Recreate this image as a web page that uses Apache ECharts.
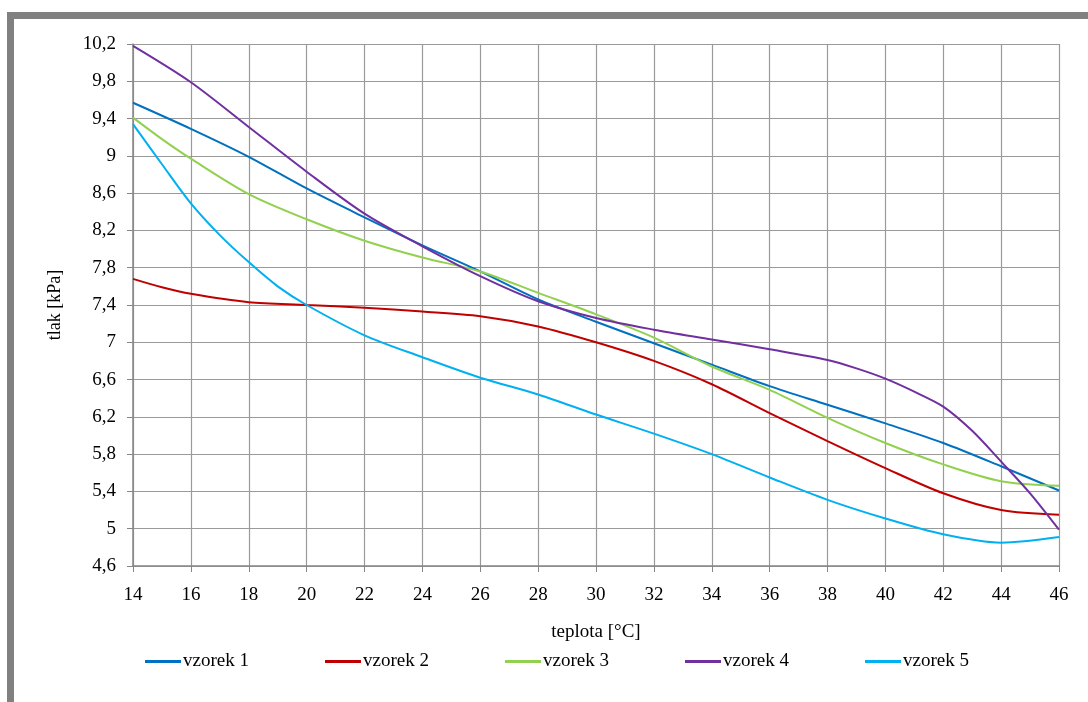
<!DOCTYPE html>
<html>
<head>
<meta charset="utf-8">
<script src="https://cdn.jsdelivr.net/npm/echarts@6/dist/echarts.min.js"></script>
<style>
html,body{margin:0;padding:0;background:#fff;}
#c{width:1088px;height:702px;}
</style>
</head>
<body>
<div id="c"></div>
<script>
// temperatures [°C]
const temps = [14, 16, 18, 20, 22, 24, 26, 28, 30, 32, 34, 36, 38, 40, 42, 44, 46];
const seriesNames = ['vzorek 1', 'vzorek 2', 'vzorek 3', 'vzorek 4', 'vzorek 5'];
// pressures [kPa]
const vzorek1 = [9.57, 9.29, 8.99, 8.65, 8.34, 8.04, 7.76, 7.46, 7.22, 6.99, 6.76, 6.53, 6.33, 6.13, 5.92, 5.67, 5.41];
const vzorek2 = [7.68, 7.52, 7.43, 7.40, 7.37, 7.33, 7.28, 7.17, 7.00, 6.80, 6.55, 6.24, 5.94, 5.65, 5.38, 5.20, 5.15];
const vzorek3 = [9.41, 8.97, 8.59, 8.32, 8.09, 7.91, 7.76, 7.53, 7.30, 7.05, 6.74, 6.49, 6.19, 5.92, 5.69, 5.51, 5.46];
const vzorek4 = [10.18, 9.79, 9.31, 8.83, 8.38, 8.03, 7.71, 7.44, 7.26, 7.135, 7.03, 6.925, 6.81, 6.61, 6.31, 5.72, 4.99];
const vzorek5 = [9.34, 8.49, 7.86, 7.40, 7.075, 6.84, 6.62, 6.44, 6.225, 6.02, 5.80, 5.55, 5.31, 5.11, 4.94, 4.85, 4.91];
// extra read points where curves bend strongly
const extra4 = [[39, 6.72], [41, 6.47], [43, 6.05], [45, 5.38]];
const extra5 = [[15, 8.91], [17, 8.15], [19, 7.60]];
const extra3 = [[15, 9.18]];
const extra2 = [[15, 7.59]];

const yMin = 4.6, yMax = 10.2, yStep = 0.4;
const xMin = 14, xMax = 46, xStep = 2;
const colors = ['#0070C0', '#C00000', '#92D050', '#7030A0', '#00B0F0'];
const legendX = [145, 325, 505, 685, 865];

function build(vals, extra) {
  const pts = temps.map((t, i) => [t, vals[i]]).concat(extra || []);
  pts.sort((a, b) => a[0] - b[0]);
  return pts.map(p => [p[0], +(p[1] - yMin).toFixed(4)]);
}
const allData = [
  build(vzorek1), build(vzorek2, extra2), build(vzorek3, extra3),
  build(vzorek4, extra4), build(vzorek5, extra5)
];

const FONT = '"Liberation Serif", "Times New Roman", serif';
const chart = echarts.init(document.getElementById('c'), null, {renderer: 'canvas'});
chart.setOption({
  animation: false,
  backgroundColor: '#fff',
  color: colors,
  graphic: [
    {type: 'rect', shape: {x: 7, y: 12, width: 1081, height: 7}, style: {fill: '#808080'}, silent: true},
    {type: 'rect', shape: {x: 7, y: 12, width: 7, height: 690}, style: {fill: '#808080'}, silent: true}
  ],
  grid: {left: 133, right: 29, top: 44, bottom: 136, containLabel: false},
  legend: seriesNames.map((n, i) => ({
    left: legendX[i],
    top: 652,
    padding: 0,
    itemWidth: 36,
    itemHeight: 3,
    itemGap: 0,
    icon: 'rect',
    textStyle: {fontFamily: FONT, fontSize: 19, color: '#000', padding: [0, 0, 0, -3]},
    data: [n]
  })),
  xAxis: {
    type: 'value', min: xMin, max: xMax, interval: xStep,
    name: 'teplota [°C]', nameLocation: 'middle', nameGap: 57,
    nameTextStyle: {fontFamily: FONT, fontSize: 19, color: '#000'},
    axisLine: {show: true, lineStyle: {color: '#868686', width: 1.5}},
    axisTick: {show: true, length: 6, lineStyle: {color: '#868686'}},
    axisLabel: {fontFamily: FONT, fontSize: 19, color: '#000', margin: 20},
    splitLine: {show: true, lineStyle: {color: '#9a9a9a', width: 1.2}}
  },
  yAxis: {
    type: 'value', min: 0, max: +(yMax - yMin).toFixed(4), interval: yStep,
    name: 'tlak [kPa]', nameLocation: 'middle', nameGap: 69, nameRotate: 90,
    nameTextStyle: {fontFamily: FONT, fontSize: 18, color: '#000'},
    axisLine: {show: true, lineStyle: {color: '#868686', width: 1.5}},
    axisTick: {show: true, length: 6, lineStyle: {color: '#868686'}},
    axisLabel: {
      fontFamily: FONT, fontSize: 19, color: '#000', margin: 17,
      formatter: v => String(Math.round((v + yMin) * 10) / 10).replace('.', ',')
    },
    splitLine: {show: true, lineStyle: {color: '#9a9a9a', width: 1.2}}
  },
  series: seriesNames.map((n, i) => ({
    name: n, type: 'line', data: allData[i], smooth: 0.3,
    showSymbol: false, symbol: 'none',
    lineStyle: {width: 2, color: colors[i]}
  }))
});
</script>
</body>
</html>
